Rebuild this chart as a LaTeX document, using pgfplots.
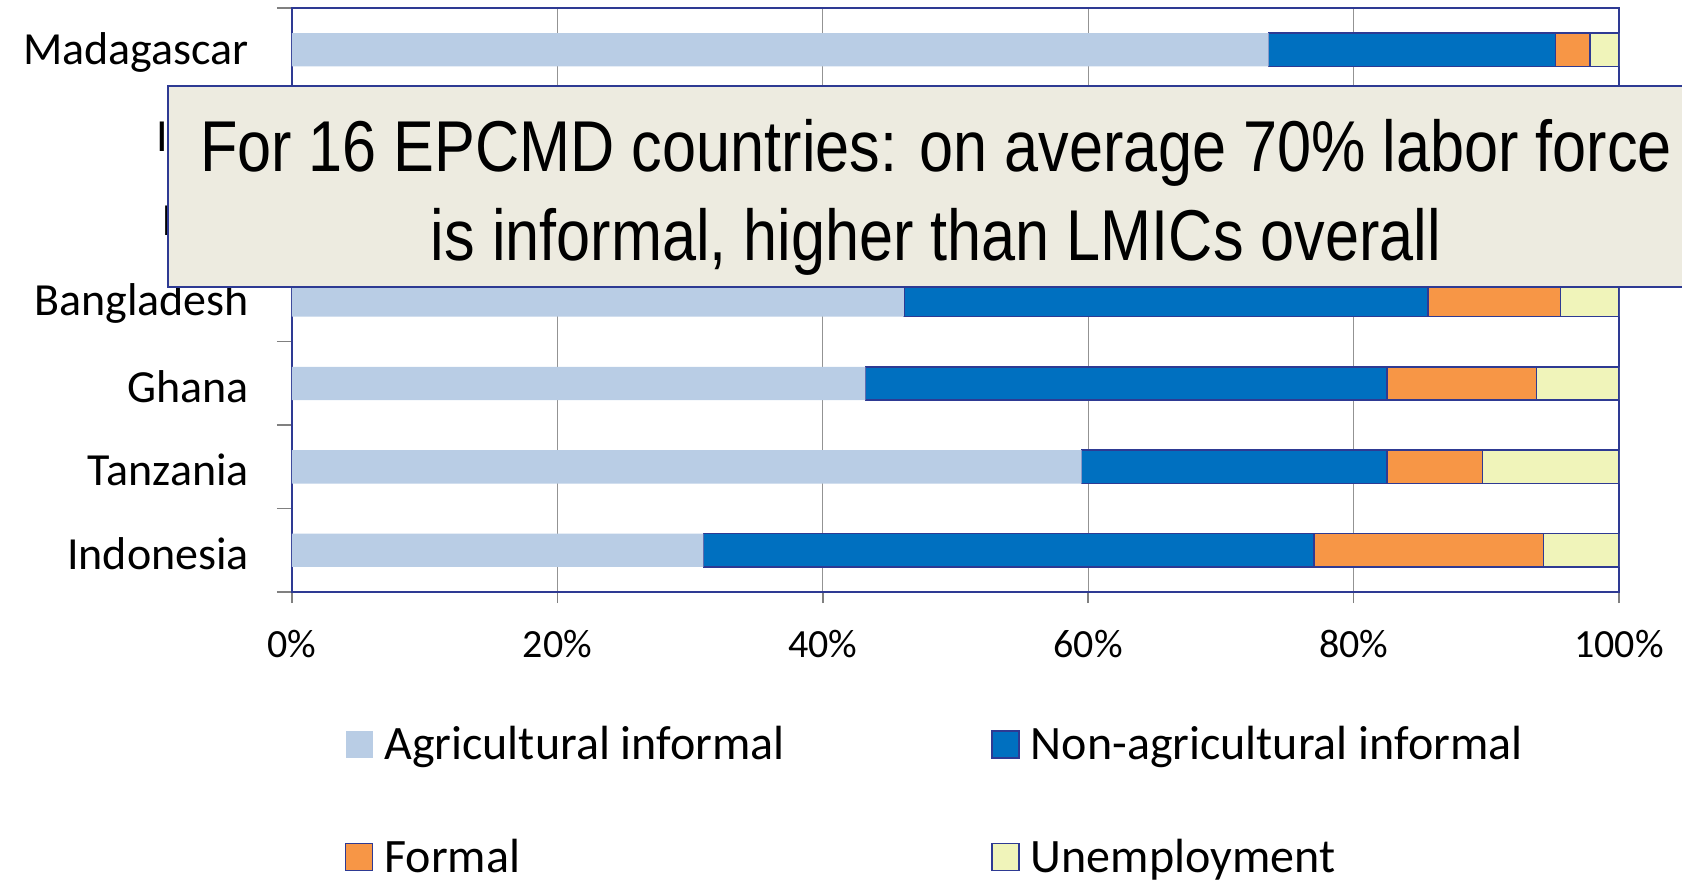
\documentclass[border=0pt]{standalone}
\usepackage{pgfplots}
\pgfplotsset{compat=1.18}
\usepackage{pgfplotstable}
\usepackage{fontspec}
\setmainfont{Carlito}
\newfontfamily\narrowfont{Liberation Sans}[FakeStretch=0.85]
\definecolor{agri}{HTML}{B9CDE5}
\definecolor{nonagri}{HTML}{0070C0}
\definecolor{formal}{HTML}{F79646}
\definecolor{unemp}{HTML}{F0F4BA}
\definecolor{frameblue}{HTML}{2E3A93}
\definecolor{boxfill}{HTML}{EDEBE0}
\pgfplotstableread{
y agri nonagri formal unemp
0 31.0 46.0 17.3 5.7
1 59.5 23.0 7.2 10.3
2 43.2 39.3 11.3 6.2
3 46.1 39.5 10.0 4.4
4 40.0 45.0 8.0 7.0
5 50.0 35.0 10.0 5.0
6 73.6 21.6 2.6 2.2
}\datatable
\pgfplotsset{sq/.style={legend image code/.code={\path[##1] (0pt,-6.75pt) rectangle (13.5pt,6.75pt);}}}
\begin{document}
\begin{tikzpicture}
\useasboundingbox (0,0) rectangle (841pt,440pt);
\begin{axis}[
  at={(146pt,144pt)}, anchor=south west,
  width=663.5pt, height=292pt, scale only axis,
  xbar stacked, bar width=0.4,
  xmin=0, xmax=100, ymin=-0.5, ymax=6.5,
  xtick={0,20,...,100},
  xticklabel={\pgfmathprintnumber{\tick}\%},
  ytick={0,...,6},
  yticklabels={Indonesia,Tanzania,Ghana,Bangladesh,Haiti,India,Madagascar},
  minor ytick={-0.5,0.5,...,6.5},
  xtick pos=left, ytick pos=left,
  tick align=outside,
  major tick length=5.5pt, minor tick length=7.5pt,
  major x tick style={gray, line width=0.75pt},
  major y tick style={draw=none},
  minor y tick style={gray, line width=0.75pt},
  xmajorgrids, major grid style={gray!85, line width=0.5pt},
  axis line style={frameblue, line width=1pt},
  /pgf/number format/assume math mode=true,
  xticklabel style={font=\fontsize{20}{24}\selectfont, yshift=-10pt},
  yticklabel style={font=\fontsize{23}{27}\selectfont, xshift=-12.5pt, yshift=-1.5pt},
  legend columns=2,
  legend cell align=left,
  legend style={at={(axis description cs:0.035,-0.216)}, anchor=north west,
    draw=none, fill=none, font=\fontsize{24}{28}\selectfont,
    row sep=34pt, nodes={inner xsep=5.5pt}},
]
\addplot[fill=agri, draw=none, sq] table[x=agri, y=y] {\datatable};
\addplot[fill=nonagri, draw=frameblue, line width=0.75pt, sq] table[x=nonagri, y=y] {\datatable};
\addplot[fill=formal, draw=frameblue, line width=0.75pt, sq] table[x=formal, y=y] {\datatable};
\addplot[fill=unemp, draw=frameblue, line width=0.75pt, sq] table[x=unemp, y=y] {\datatable};
\legend{\makebox[298pt][l]{Agricultural informal}, Non-agricultural informal, \makebox[298pt][l]{Formal}, Unemployment}
\end{axis}
\draw[frameblue, line width=1pt, fill=boxfill] (84pt,296.5pt) rectangle (860pt,397pt);
\node[font=\narrowfont\fontsize{36}{43}\selectfont, anchor=base, inner sep=0pt] at (468pt,354pt) {For 16 EPCMD countries: on average 70\% labor force};
\node[font=\narrowfont\fontsize{36}{43}\selectfont, anchor=base, inner sep=0pt] at (468pt,309.5pt) {is informal, higher than LMICs overall};
\end{tikzpicture}
\end{document}
